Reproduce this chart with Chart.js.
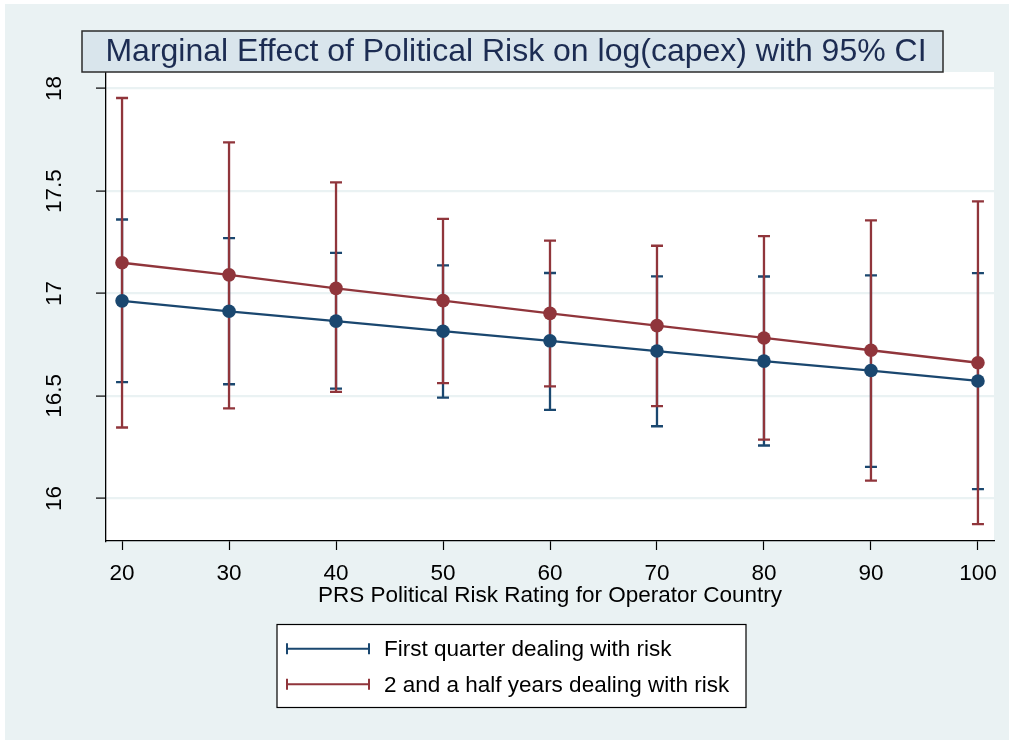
<!DOCTYPE html>
<html>
<head>
<meta charset="utf-8">
<script src="https://cdn.jsdelivr.net/npm/chart.js@4/dist/chart.umd.min.js"></script>
<style>
  html, body { margin: 0; padding: 0; background: #fff; }
  #wrap { position: relative; width: 1011px; height: 740px; }
</style>
</head>
<body>
<div id="wrap"><canvas id="marginsChart" width="1011" height="740"></canvas></div>
<script>
  'use strict';

  // PRS rating values on the x axis
  const riskLevels = [20, 30, 40, 50, 60, 70, 80, 90, 100];

  // first quarter dealing with risk
  const firstMean = [16.964, 16.913, 16.865, 16.816, 16.769, 16.719, 16.670, 16.624, 16.573];
  const firstLow  = [16.567, 16.557, 16.536, 16.492, 16.432, 16.352, 16.258, 16.154, 16.045];
  const firstHigh = [17.361, 17.270, 17.198, 17.137, 17.100, 17.084, 17.083, 17.088, 17.099];

  // 2 and a half years dealing with risk
  const secondMean = [17.150, 17.091, 17.025, 16.965, 16.903, 16.843, 16.783, 16.723, 16.662];
  const secondLow  = [16.346, 16.439, 16.520, 16.563, 16.547, 16.450, 16.287, 16.087, 15.874];
  const secondHigh = [17.954, 17.738, 17.542, 17.364, 17.258, 17.233, 17.280, 17.357, 17.450];

  const yTicks = [16, 16.5, 17, 17.5, 18];
  const xTicks = [20, 30, 40, 50, 60, 70, 80, 90, 100];

  const titleText = 'Marginal Effect of Political Risk on log(capex) with 95% CI';
  const xTitle = 'PRS Political Risk Rating for Operator Country';
  const seriesNames = ['First quarter dealing with risk', '2 and a half years dealing with risk'];

  const BLUE = '#1a476f';
  const RED = '#90353b';
  const BG = '#eaf2f3';
  const FONT = "'Liberation Sans', Arial, Helvetica, sans-serif";

  function toPoints(ys) {
    return riskLevels.map((x, i) => ({ x: x, y: ys[i] }));
  }

  // background of the graph region + plot region
  const backgroundPlugin = {
    id: 'stataBackground',
    beforeDraw(chart) {
      const { ctx, chartArea } = chart;
      ctx.save();
      ctx.fillStyle = '#fff';
      ctx.fillRect(0, 0, chart.width, chart.height);
      ctx.fillStyle = BG;
      ctx.fillRect(5, 4, 1004, 736);
      ctx.fillStyle = '#fff';
      ctx.fillRect(chartArea.left, chartArea.top, chartArea.right - chartArea.left, chartArea.bottom - chartArea.top);
      ctx.restore();
    }
  };

  // confidence interval caps, drawn under the lines
  const errorBarPlugin = {
    id: 'ciCaps',
    beforeDatasetsDraw(chart) {
      const { ctx, scales } = chart;
      const sets = [
        { lo: firstLow, hi: firstHigh, color: BLUE },
        { lo: secondLow, hi: secondHigh, color: RED }
      ];
      ctx.save();
      ctx.lineWidth = 2.3;
      ctx.lineCap = 'butt';
      sets.forEach(s => {
        ctx.strokeStyle = s.color;
        riskLevels.forEach((v, i) => {
          const px = scales.x.getPixelForValue(v);
          const yLo = scales.y.getPixelForValue(s.lo[i]);
          const yHi = scales.y.getPixelForValue(s.hi[i]);
          ctx.beginPath();
          ctx.moveTo(px, yLo);
          ctx.lineTo(px, yHi);
          ctx.moveTo(px - 6, yLo);
          ctx.lineTo(px + 6, yLo);
          ctx.moveTo(px - 6, yHi);
          ctx.lineTo(px + 6, yHi);
          ctx.stroke();
        });
      });
      ctx.restore();
    }
  };

  // boxed title and boxed legend
  const decorPlugin = {
    id: 'stataDecor',
    afterDraw(chart) {
      const ctx = chart.ctx;
      ctx.save();

      ctx.fillStyle = '#d9e5ec';
      ctx.fillRect(82, 31, 861, 41);
      ctx.strokeStyle = '#2b2b2b';
      ctx.lineWidth = 1.5;
      ctx.strokeRect(82, 31, 861, 41);
      ctx.fillStyle = '#1c2c52';
      ctx.font = '32px ' + FONT;
      ctx.textAlign = 'center';
      ctx.textBaseline = 'middle';
      ctx.fillText(titleText, 516, 52);

      ctx.fillStyle = '#fff';
      ctx.fillRect(277, 624.5, 469, 83);
      ctx.strokeStyle = '#000';
      ctx.lineWidth = 1.2;
      ctx.strokeRect(277, 624.5, 469, 83);

      const rows = [{ y: 648.7, color: BLUE }, { y: 684.3, color: RED }];
      ctx.font = '22.5px ' + FONT;
      ctx.textAlign = 'left';
      rows.forEach((r, i) => {
        ctx.strokeStyle = r.color;
        ctx.lineWidth = 2;
        ctx.beginPath();
        ctx.moveTo(287, r.y);
        ctx.lineTo(369, r.y);
        ctx.moveTo(287, r.y - 5.5);
        ctx.lineTo(287, r.y + 5.5);
        ctx.moveTo(369, r.y - 5.5);
        ctx.lineTo(369, r.y + 5.5);
        ctx.stroke();
        ctx.fillStyle = '#000';
        ctx.fillText(seriesNames[i], 384, r.y + 1);
      });
      ctx.restore();
    }
  };

  const lineStyle = color => ({
    borderColor: color,
    backgroundColor: color,
    borderWidth: 2.3,
    pointRadius: 6.8,
    pointBorderWidth: 0,
    pointBackgroundColor: color,
    tension: 0,
    fill: false
  });

  const ctx = document.getElementById('marginsChart').getContext('2d');
  new Chart(ctx, {
    type: 'line',
    data: {
      datasets: [
        Object.assign({ label: seriesNames[0], data: toPoints(firstMean), order: 2 }, lineStyle(BLUE)),
        Object.assign({ label: seriesNames[1], data: toPoints(secondMean), order: 1 }, lineStyle(RED))
      ]
    },
    options: {
      responsive: false,
      animation: false,
      devicePixelRatio: 1,
      layout: { padding: { left: 0, right: 17, top: 72, bottom: 0 } },
      plugins: {
        legend: { display: false },
        title: { display: false },
        tooltip: { enabled: false }
      },
      scales: {
        x: {
          type: 'linear',
          min: 18.5,
          max: 101.5,
          afterBuildTicks: axis => { axis.ticks = xTicks.map(v => ({ value: v })); },
          afterFit: axis => { axis.height = 199; },
          grid: { display: true, drawOnChartArea: false, drawTicks: true, tickLength: 9, tickColor: '#000', tickWidth: 1.2 },
          border: { display: true, color: '#000', width: 1.3 },
          ticks: {
            color: '#000',
            padding: 10,
            maxRotation: 0,
            font: { family: FONT, size: 22.5 },
            callback: v => String(v)
          },
          title: {
            display: true,
            text: xTitle,
            color: '#000',
            font: { family: FONT, size: 22.5 },
            padding: { top: 0, bottom: 131 }
          }
        },
        y: {
          type: 'linear',
          min: 15.792,
          max: 18.081,
          afterBuildTicks: axis => { axis.ticks = yTicks.map(v => ({ value: v })); },
          afterFit: axis => { axis.width = 106; },
          grid: { color: BG, lineWidth: 2.2, drawTicks: true, tickLength: 10, tickColor: '#000', tickWidth: 1.2 },
          border: { display: true, color: '#000', width: 1.3 },
          ticks: {
            color: '#000',
            padding: 19,
            minRotation: 90,
            maxRotation: 90,
            crossAlign: 'center',
            font: { family: FONT, size: 22.5 },
            callback: v => String(v)
          }
        }
      }
    },
    plugins: [backgroundPlugin, errorBarPlugin, decorPlugin]
  });
</script>
</body>
</html>
